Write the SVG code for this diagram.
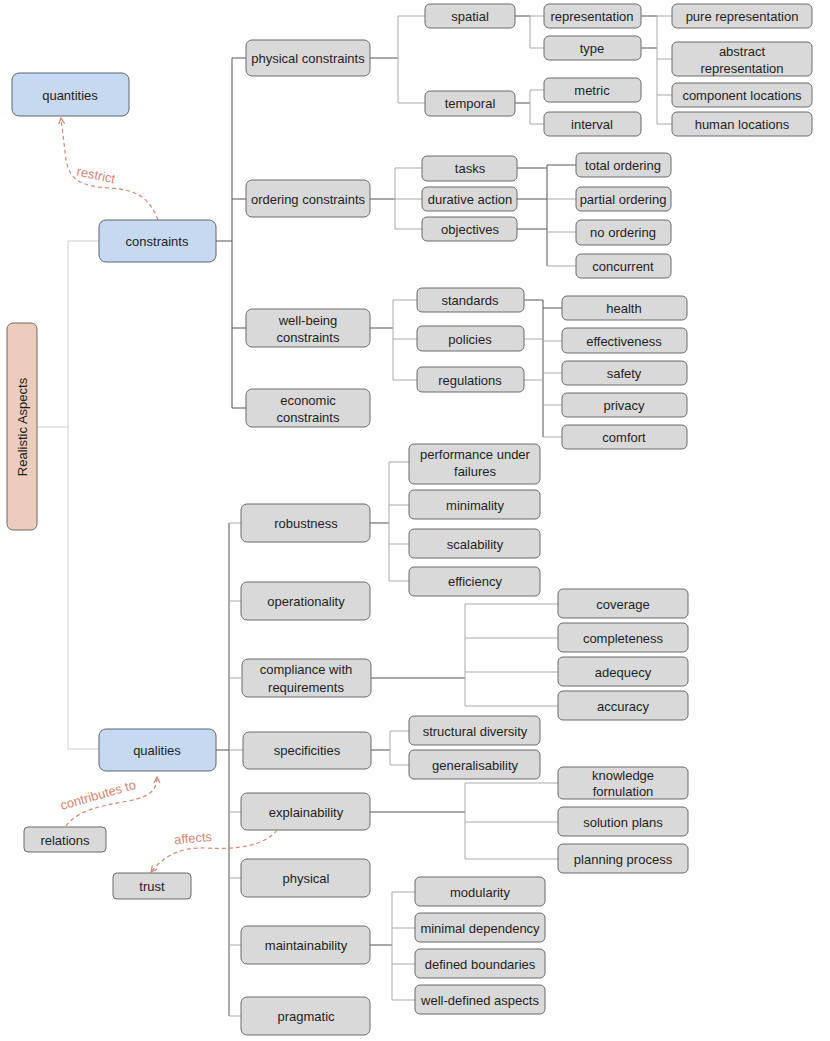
<svg xmlns="http://www.w3.org/2000/svg" width="830" height="1041" viewBox="0 0 830 1041">
<style>
text{font-family:"Liberation Sans",Arial,sans-serif;font-size:13px;fill:#1e1e1e;text-anchor:middle;dominant-baseline:central}
.g{fill:#d9d9d9;stroke:#6b6b6b;stroke-width:1}
.b{fill:#c6d9f1;stroke:#5b6470;stroke-width:1}
.r{fill:#ecccbd;stroke:#6b6b6b;stroke-width:1}
.c{fill:none;stroke:#555;stroke-width:1}
.cl{fill:none;stroke:#a9a9a9;stroke-width:1}
.cv{fill:none;stroke:#cfcfcf;stroke-width:1}
.d{fill:none;stroke:#d98673;stroke-width:1.2;stroke-dasharray:4 3}
.lbl{fill:#d98673;font-size:13px}
</style>
<defs>
<marker id="ah" viewBox="0 0 8 8" refX="7" refY="4" markerWidth="8" markerHeight="8" orient="auto" markerUnits="userSpaceOnUse">
<path d="M1,1 L7,4 L1,7" fill="none" stroke="#d98673" stroke-width="1.2"/>
</marker>
</defs>
<g id="connectors">
<path class="cv" d="M37,427 H68 M68,241 V749 M68,241 H99 M68,749 H99"/>
<path class="c" d="M216,241 H232 M232,58 V408 M232,58 H246 M232,199 H246 M232,328 H246 M232,408 H246"/>
<path class="c" d="M370,58 H398"/><path class="cl" d="M398,16 V103 M398,16 H425 M398,103 H425"/>
<path class="c" d="M515,16 H530 M515,103 H530"/><path class="cl" d="M530,16 V48 M530,16 H544 M530,48 H544 M530,90 V124 M530,90 H544 M530,124 H544"/>
<path class="c" d="M641,16 H657 M641,48 H657"/><path class="cl" d="M657,16 V124 M657,16 H672 M657,59 H672 M657,95 H672 M657,124 H672"/>
<path class="c" d="M370,199 H395"/><path class="cl" d="M395,168 V229 M395,168 H422 M395,199 H422 M395,229 H422"/>
<path class="c" d="M517,168 H547 M517,199 H547 M517,229 H547 M547,165 V266 M547,165 H576"/><path class="cl" d="M547,199 H576 M547,232 H576 M547,266 H576"/>
<path class="c" d="M370,328 H393"/><path class="cl" d="M393,300 V380 M393,300 H417 M393,339 H417 M393,380 H417"/>
<path class="c" d="M524,300 H543 M543,300 V437 M543,308 H562"/><path class="cl" d="M524,339 H543 M524,380 H543 M543,341 H562 M543,373 H562 M543,405 H562 M543,437 H562"/>
<path class="c" d="M216,750 H229 M229,523 V1016"/><path class="cl" d="M229,523 H241 M229,601 H241 M229,678 H241 M229,750 H243 M229,812 H241 M229,878 H241 M229,945 H241 M229,1016 H241"/>
<path class="c" d="M370,523 H389"/><path class="cl" d="M389,462 V581 M389,462 H409 M389,505 H409 M389,544 H409 M389,581 H409"/>
<path class="c" d="M370,678 H465"/><path class="cl" d="M465,604 V706 M465,604 H558 M465,638 H558 M465,672 H558 M465,706 H558"/>
<path class="c" d="M371,750 H390"/><path class="cl" d="M390,731 V765 M390,731 H409 M390,765 H409"/>
<path class="c" d="M370,812 H465"/><path class="cl" d="M465,783 V859 M465,783 H558 M465,822 H558 M465,859 H558"/>
<path class="c" d="M370,945 H392"/><path class="cl" d="M392,892 V1000 M392,892 H415 M392,928 H415 M392,964 H415 M392,1000 H415"/>
</g>
<g id="relations-links">
<path class="d" d="M158,220 C150,200 140,190 110,188 C80,186 70,180 66,160 L61,118" marker-end="url(#ah)"/>
<text class="lbl" x="96" y="175" transform="rotate(12 96 175)">restrict</text>
<path class="d" d="M66,826 C78,810 100,806 128,801 C150,797 157,790 157,777" marker-end="url(#ah)"/>
<text class="lbl" x="98" y="795" transform="rotate(-16 98 795)">contributes to</text>
<path class="d" d="M277,830 C265,845 240,850 205,848 C178,847 162,858 151,872" marker-end="url(#ah)"/>
<text class="lbl" x="193" y="838" transform="rotate(-5 193 838)">affects</text>
</g>
<g id="n-realistic"><rect class="r" x="7" y="323" width="30" height="207" rx="6"/><text transform="translate(22,427) rotate(-90)">Realistic Aspects</text></g>
<g id="n-quantities"><rect class="b" x="12" y="73" width="117" height="43" rx="7"/><text x="70" y="95">quantities</text></g>
<g id="n-constraints"><rect class="b" x="99" y="220" width="117" height="42" rx="7"/><text x="157" y="241">constraints</text></g>
<g id="n-qualities"><rect class="b" x="99" y="729" width="117" height="42" rx="7"/><text x="157" y="750">qualities</text></g>
<g id="n-relations"><rect class="g" x="24" y="827" width="82" height="25" rx="4"/><text x="65" y="840">relations</text></g>
<g id="n-trust"><rect class="g" x="113" y="873" width="78" height="26" rx="4"/><text x="152" y="886">trust</text></g>
<g id="n-physical-constraints"><rect class="g" x="246" y="40" width="124" height="36" rx="6"/><text x="308" y="58">physical constraints</text></g>
<g id="n-ordering-constraints"><rect class="g" x="246" y="180" width="124" height="37" rx="6"/><text x="308" y="199">ordering constraints</text></g>
<g id="n-wellbeing-constraints"><rect class="g" x="246" y="309" width="124" height="38" rx="6"/><text x="308" y="320">well-being</text><text x="308" y="337">constraints</text></g>
<g id="n-economic-constraints"><rect class="g" x="246" y="389" width="124" height="38" rx="6"/><text x="308" y="400">economic</text><text x="308" y="417">constraints</text></g>
<g id="n-spatial"><rect class="g" x="425" y="4" width="90" height="24" rx="5"/><text x="470" y="16">spatial</text></g>
<g id="n-temporal"><rect class="g" x="425" y="91" width="90" height="25" rx="5"/><text x="470" y="103">temporal</text></g>
<g id="n-representation"><rect class="g" x="544" y="4" width="97" height="24" rx="5"/><text x="592" y="16">representation</text></g>
<g id="n-type"><rect class="g" x="544" y="36" width="97" height="24" rx="5"/><text x="592" y="48">type</text></g>
<g id="n-metric"><rect class="g" x="544" y="78" width="97" height="24" rx="5"/><text x="592" y="90">metric</text></g>
<g id="n-interval"><rect class="g" x="544" y="112" width="97" height="24" rx="5"/><text x="592" y="124">interval</text></g>
<g id="n-pure-representation"><rect class="g" x="672" y="4" width="140" height="24" rx="5"/><text x="742" y="16">pure representation</text></g>
<g id="n-abstract-representation"><rect class="g" x="672" y="42" width="140" height="34" rx="5"/><text x="742" y="51">abstract</text><text x="742" y="68">representation</text></g>
<g id="n-component-locations"><rect class="g" x="672" y="83" width="140" height="24" rx="5"/><text x="742" y="95">component locations</text></g>
<g id="n-human-locations"><rect class="g" x="672" y="112" width="140" height="24" rx="5"/><text x="742" y="124">human locations</text></g>
<g id="n-tasks"><rect class="g" x="422" y="156" width="95" height="25" rx="5"/><text x="470" y="168">tasks</text></g>
<g id="n-durative-action"><rect class="g" x="422" y="187" width="95" height="24" rx="5"/><text x="470" y="199">durative action</text></g>
<g id="n-objectives"><rect class="g" x="422" y="217" width="95" height="24" rx="5"/><text x="470" y="229">objectives</text></g>
<g id="n-total-ordering"><rect class="g" x="576" y="153" width="95" height="24" rx="5"/><text x="623" y="165">total ordering</text></g>
<g id="n-partial-ordering"><rect class="g" x="576" y="187" width="95" height="24" rx="5"/><text x="623" y="199">partial ordering</text></g>
<g id="n-no-ordering"><rect class="g" x="576" y="220" width="95" height="25" rx="5"/><text x="623" y="232">no ordering</text></g>
<g id="n-concurrent"><rect class="g" x="576" y="254" width="95" height="24" rx="5"/><text x="623" y="266">concurrent</text></g>
<g id="n-standards"><rect class="g" x="417" y="288" width="107" height="24" rx="5"/><text x="470" y="300">standards</text></g>
<g id="n-policies"><rect class="g" x="417" y="326" width="107" height="25" rx="5"/><text x="470" y="339">policies</text></g>
<g id="n-regulations"><rect class="g" x="417" y="367" width="107" height="25" rx="5"/><text x="470" y="380">regulations</text></g>
<g id="n-health"><rect class="g" x="562" y="296" width="125" height="24" rx="5"/><text x="624" y="308">health</text></g>
<g id="n-effectiveness"><rect class="g" x="562" y="328" width="125" height="25" rx="5"/><text x="624" y="341">effectiveness</text></g>
<g id="n-safety"><rect class="g" x="562" y="361" width="125" height="24" rx="5"/><text x="624" y="373">safety</text></g>
<g id="n-privacy"><rect class="g" x="562" y="393" width="125" height="24" rx="5"/><text x="624" y="405">privacy</text></g>
<g id="n-comfort"><rect class="g" x="562" y="425" width="125" height="24" rx="5"/><text x="624" y="437">comfort</text></g>
<g id="n-robustness"><rect class="g" x="241" y="504" width="129" height="38" rx="6"/><text x="306" y="523">robustness</text></g>
<g id="n-operationality"><rect class="g" x="241" y="582" width="129" height="38" rx="6"/><text x="306" y="601">operationality</text></g>
<g id="n-compliance"><rect class="g" x="242" y="659" width="129" height="38" rx="6"/><text x="306" y="669">compliance with</text><text x="306" y="687">requirements</text></g>
<g id="n-specificities"><rect class="g" x="243" y="732" width="128" height="37" rx="6"/><text x="307" y="750">specificities</text></g>
<g id="n-explainability"><rect class="g" x="241" y="793" width="129" height="37" rx="6"/><text x="306" y="812">explainability</text></g>
<g id="n-physical"><rect class="g" x="241" y="859" width="129" height="38" rx="6"/><text x="306" y="878">physical</text></g>
<g id="n-maintainability"><rect class="g" x="241" y="926" width="129" height="38" rx="6"/><text x="306" y="945">maintainability</text></g>
<g id="n-pragmatic"><rect class="g" x="241" y="997" width="129" height="38" rx="6"/><text x="306" y="1016">pragmatic</text></g>
<g id="n-performance"><rect class="g" x="409" y="444" width="131" height="40" rx="5"/><text x="475" y="454">performance under</text><text x="475" y="471">failures</text></g>
<g id="n-minimality"><rect class="g" x="409" y="490" width="131" height="29" rx="5"/><text x="475" y="505">minimality</text></g>
<g id="n-scalability"><rect class="g" x="409" y="529" width="131" height="29" rx="5"/><text x="475" y="544">scalability</text></g>
<g id="n-efficiency"><rect class="g" x="409" y="567" width="131" height="29" rx="5"/><text x="475" y="581">efficiency</text></g>
<g id="n-coverage"><rect class="g" x="558" y="589" width="130" height="29" rx="5"/><text x="623" y="604">coverage</text></g>
<g id="n-completeness"><rect class="g" x="558" y="623" width="130" height="29" rx="5"/><text x="623" y="638">completeness</text></g>
<g id="n-adequecy"><rect class="g" x="558" y="657" width="130" height="29" rx="5"/><text x="623" y="672">adequecy</text></g>
<g id="n-accuracy"><rect class="g" x="558" y="691" width="130" height="29" rx="5"/><text x="623" y="706">accuracy</text></g>
<g id="n-structural-diversity"><rect class="g" x="409" y="716" width="131" height="29" rx="5"/><text x="475" y="731">structural diversity</text></g>
<g id="n-generalisability"><rect class="g" x="409" y="750" width="131" height="29" rx="5"/><text x="475" y="765">generalisability</text></g>
<g id="n-knowledge"><rect class="g" x="558" y="767" width="130" height="32" rx="5"/><text x="623" y="775">knowledge</text><text x="623" y="791">fornulation</text></g>
<g id="n-solution-plans"><rect class="g" x="558" y="807" width="130" height="29" rx="5"/><text x="623" y="822">solution plans</text></g>
<g id="n-planning-process"><rect class="g" x="558" y="844" width="130" height="29" rx="5"/><text x="623" y="859">planning process</text></g>
<g id="n-modularity"><rect class="g" x="415" y="877" width="130" height="29" rx="5"/><text x="480" y="892">modularity</text></g>
<g id="n-minimal-dependency"><rect class="g" x="415" y="913" width="130" height="29" rx="5"/><text x="480" y="928">minimal dependency</text></g>
<g id="n-defined-boundaries"><rect class="g" x="415" y="949" width="130" height="29" rx="5"/><text x="480" y="964">defined boundaries</text></g>
<g id="n-well-defined-aspects"><rect class="g" x="415" y="985" width="130" height="29" rx="5"/><text x="480" y="1000">well-defined aspects</text></g>
</svg>
